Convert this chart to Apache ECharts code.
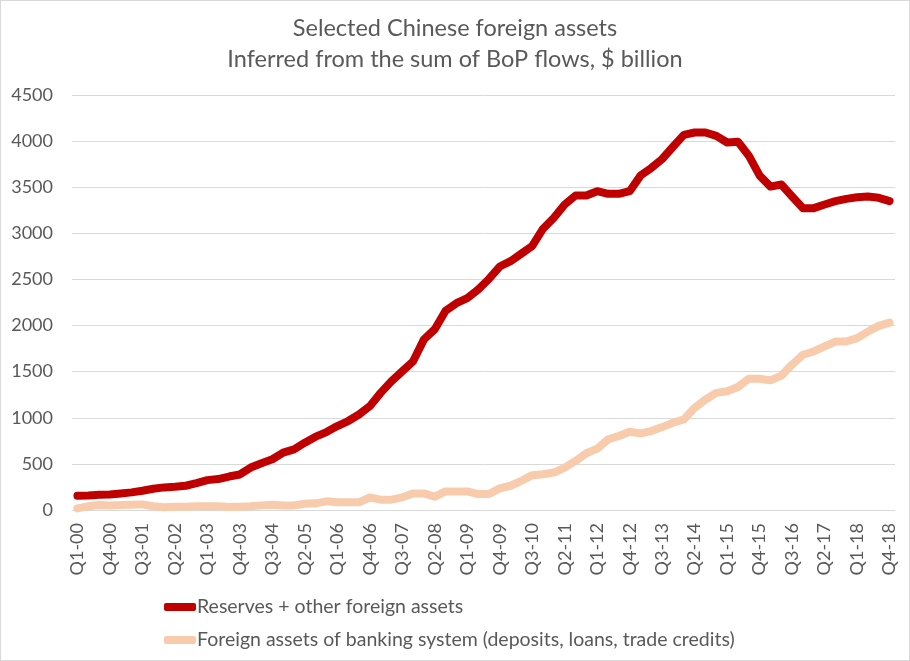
<!DOCTYPE html>
<html>
<head>
    <meta charset="utf-8">
    <title>Selected Chinese foreign assets</title>
    <script src="https://cdn.jsdelivr.net/npm/echarts@6/dist/echarts.min.js"></script>
    <style>
        html, body { margin: 0; padding: 0; background: #fff; }
        #main { width: 910px; height: 661px; box-sizing: border-box; border: 1px solid #d9d9d9; }
    </style>
</head>
<body>
    <div id="main"></div>
    <script type="text/javascript">
        // quarters Q1-00 .. Q4-18
        var years = ['00','01','02','03','04','05','06','07','08','09','10','11','12','13','14','15','16','17','18'];
        var quarters = [];
        for (var y = 0; y < years.length; y++) {
            for (var q = 1; q <= 4; q++) {
                quarters.push('Q' + q + '-' + years[y]);
            }
        }

        // $ billion
        var reserves = [
            155, 158, 165, 169, 180, 191, 209, 230, 245, 252,
            263, 291, 324, 335, 363, 385, 460, 507, 550, 622,
            658, 730, 795, 845, 910, 965, 1036, 1126, 1270, 1396,
            1504, 1612, 1850, 1960, 2160, 2243, 2297, 2390, 2505, 2640,
            2698, 2780, 2863, 3050, 3169, 3313, 3410, 3410, 3457, 3428,
            3428, 3457, 3626, 3709, 3806, 3939, 4068, 4093, 4093, 4057,
            3985, 3993, 3842, 3626, 3507, 3529, 3399, 3273, 3273, 3313,
            3349, 3374, 3392, 3399, 3385, 3349
        ];
        var banking = [
            18, 40, 54, 50, 54, 58, 61, 40, 29, 36,
            36, 40, 40, 40, 32, 36, 40, 50, 58, 50,
            50, 68, 72, 94, 83, 83, 83, 137, 112, 112,
            137, 180, 180, 144, 201, 201, 201, 173, 173, 234,
            263, 317, 378, 388, 406, 460, 532, 615, 665, 766,
            802, 849, 831, 856, 899, 946, 982, 1108, 1198, 1270,
            1288, 1334, 1424, 1424, 1406, 1457, 1576, 1683, 1719, 1773,
            1827, 1827, 1863, 1935, 1996, 2032
        ];

        var names = [
            'Reserves + other foreign assets',
            'Foreign assets of banking system (deposits, loans, trade credits)'
        ];

        var FONT = 'Lato, "Open Sans", sans-serif';
        var TEXT = '#595959';

        var option = {
            animation: false,
            textStyle: { fontFamily: FONT },
            title: {
                text: 'Selected Chinese foreign assets\nInferred from the sum of BoP flows, $ billion',
                left: 'center',
                top: 7,
                textStyle: {
                    fontFamily: FONT,
                    fontSize: 23.5,
                    fontWeight: 'normal',
                    lineHeight: 31,
                    color: TEXT
                }
            },
            legend: {
                orient: 'vertical',
                left: 158,
                top: 590,
                itemWidth: 32,
                itemHeight: 8,
                itemGap: 11,
                icon: 'roundRect',
                data: names,
                textStyle: {
                    fontFamily: FONT,
                    fontSize: 19.5,
                    lineHeight: 22,
                    color: TEXT,
                    padding: [0, 0, 0, -4]
                }
            },
            grid: {
                left: 71,
                right: 14,
                top: 94,
                bottom: 150
            },
            xAxis: {
                type: 'category',
                data: quarters,
                boundaryGap: true,
                axisLine: { lineStyle: { color: '#d9d9d9', width: 1 } },
                axisTick: { show: false },
                axisLabel: {
                    interval: 2,
                    rotate: 90,
                    margin: 13,
                    fontFamily: FONT,
                    fontSize: 18,
                    color: TEXT
                }
            },
            yAxis: {
                type: 'value',
                min: 0,
                max: 4500,
                interval: 500,
                axisLine: { show: false },
                axisTick: { show: false },
                splitLine: { lineStyle: { color: '#d9d9d9', width: 1 } },
                axisLabel: {
                    margin: 19,
                    fontFamily: FONT,
                    fontSize: 18,
                    color: TEXT,
                    formatter: function (v) { return String(v); }
                }
            },
            series: [
                {
                    name: names[0],
                    type: 'line',
                    data: reserves,
                    showSymbol: false,
                    symbol: 'none',
                    z: 3,
                    itemStyle: { color: '#C00000' },
                    lineStyle: { color: '#C00000', width: 8, cap: 'round', join: 'round' }
                },
                {
                    name: names[1],
                    type: 'line',
                    data: banking,
                    showSymbol: false,
                    symbol: 'none',
                    z: 2,
                    itemStyle: { color: '#F8CBAD' },
                    lineStyle: { color: '#F8CBAD', width: 8, cap: 'round', join: 'round' }
                }
            ]
        };

        var myChart = echarts.init(document.getElementById('main'));
        myChart.setOption(option);
    </script>
</body>
</html>
